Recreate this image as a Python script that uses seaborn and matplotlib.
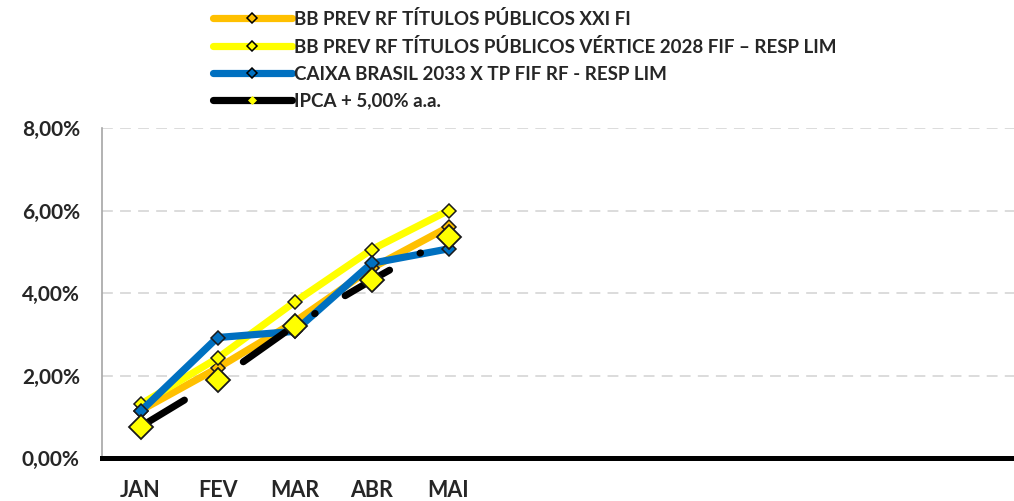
import matplotlib
matplotlib.use("Agg")
import matplotlib.pyplot as plt
from matplotlib.lines import Line2D
from matplotlib.ticker import FuncFormatter, FixedLocator
import seaborn as sns
import pandas as pd

# ===============================
# Data (accumulated return, %)
# ===============================

months = ["JAN", "FEV", "MAR", "ABR", "MAI", "JUN", "JUL", "AGO", "SET", "OUT", "NOV", "DEZ"]
month_labels = ["JAN", "FEV", "MAR", "ABR", "MAI", "", "", "", "", "", "", ""]

bb_xxi = [1.15, 2.18, 3.30, 4.60, 5.60]
bb_vertice = [1.30, 2.42, 3.78, 5.05, 6.00]
caixa_2033 = [1.13, 2.92, 3.07, 4.72, 5.07]
ipca_meta = [0.76, 1.89, 3.21, 4.31, 5.35]

names = [
    "BB PREV RF TÍTULOS PÚBLICOS XXI FI",
    "BB PREV RF TÍTULOS PÚBLICOS VÉRTICE 2028 FIF – RESP LIM",
    "CAIXA BRASIL 2033 X TP FIF RF - RESP LIM",
    "IPCA + 5,00% a.a.",
]
colors = ["#FFC000", "#FFFF00", "#0070C0", "#000000"]

# ===============================
# Style
# ===============================

sns.set_style("white")
plt.rcParams["font.family"] = ["Lato", "DejaVu Sans"]
plt.rcParams["font.weight"] = "bold"

fig = plt.figure(figsize=(10.14, 5.01), dpi=100)
ax = fig.add_axes([102 / 1014, 43 / 501, 924 / 1014, 330 / 501])

series = [bb_xxi, bb_vertice, caixa_2033]
for vals, name, col in zip(series, names[:3], colors[:3]):
    df = pd.DataFrame({"x": range(len(vals)), "y": vals})
    sns.lineplot(
        data=df, x="x", y="y", ax=ax,
        color=col, linewidth=5.2, solid_capstyle="round",
        marker="D", markersize=7.5, markerfacecolor=col,
        markeredgecolor="#1a1a1a", markeredgewidth=1.1,
    )

df = pd.DataFrame({"x": range(len(ipca_meta)), "y": ipca_meta})
sns.lineplot(
    data=df, x="x", y="y", ax=ax,
    color="black", linewidth=5.0, linestyle=(0, (7.4, 5.0, 0.1, 5.0)),
    dash_capstyle="round",
    marker="D", markersize=12, markerfacecolor="#FFFF00",
    markeredgecolor="#1a1a1a", markeredgewidth=1.3,
)

# ===============================
# Axes
# ===============================

ax.set_xlim(-0.5, len(months) - 0.5)
ax.set_ylim(0, 8)
ax.set_xlabel("")
ax.set_ylabel("")

ax.set_yticks([0, 2, 4, 6, 8])
ax.yaxis.set_major_formatter(FuncFormatter(lambda v, p: f"{v:.2f}%".replace(".", ",")))
ax.tick_params(axis="y", length=5, width=1, color="#A6A6A6", pad=11, labelsize=15)
for v in [2, 4, 6, 8]:
    ax.axhline(v, color="#D9D9D9", linewidth=1.3, linestyle=(0, (6, 4)), zorder=0)

ax.xaxis.set_major_locator(FixedLocator([i - 0.5 for i in range(len(months) + 1)]))
ax.xaxis.set_minor_locator(FixedLocator(list(range(len(months)))))
ax.set_xticklabels([])
ax.set_xticklabels(month_labels, minor=True)
ax.tick_params(axis="x", which="major", length=4.5, width=3, color="black", direction="out")
ax.tick_params(axis="x", which="minor", length=0, pad=16, labelsize=15.5)

for s in ["top", "right"]:
    ax.spines[s].set_visible(False)
ax.spines["left"].set_color("#A6A6A6")
ax.spines["left"].set_linewidth(1.2)
ax.spines["bottom"].set_color("black")
ax.spines["bottom"].set_linewidth(3.6)
ax.spines["bottom"].set_zorder(5)

# ===============================
# Legend
# ===============================

handles = []
for col in colors[:3]:
    handles.append(Line2D([0], [0], color=col, linewidth=5.2, solid_capstyle="round",
                          marker="D", markersize=5, markerfacecolor=col,
                          markeredgecolor="black", markeredgewidth=1.1))
handles.append(Line2D([0], [0], color="black", linewidth=5.2, solid_capstyle="round",
                      marker="D", markersize=4.5, markerfacecolor="#FFFF00",
                      markeredgecolor="#FFFF00", markeredgewidth=0.5))

fig.legend(handles, names, loc="upper left", bbox_to_anchor=(213 / 1014, 1 - 10 / 501),
           frameon=False, fontsize=13.5, handlelength=4.2, handletextpad=0.12,
           labelspacing=0.52, borderpad=0, borderaxespad=0)

plt.savefig("out.png", dpi=100)
plt.close()
